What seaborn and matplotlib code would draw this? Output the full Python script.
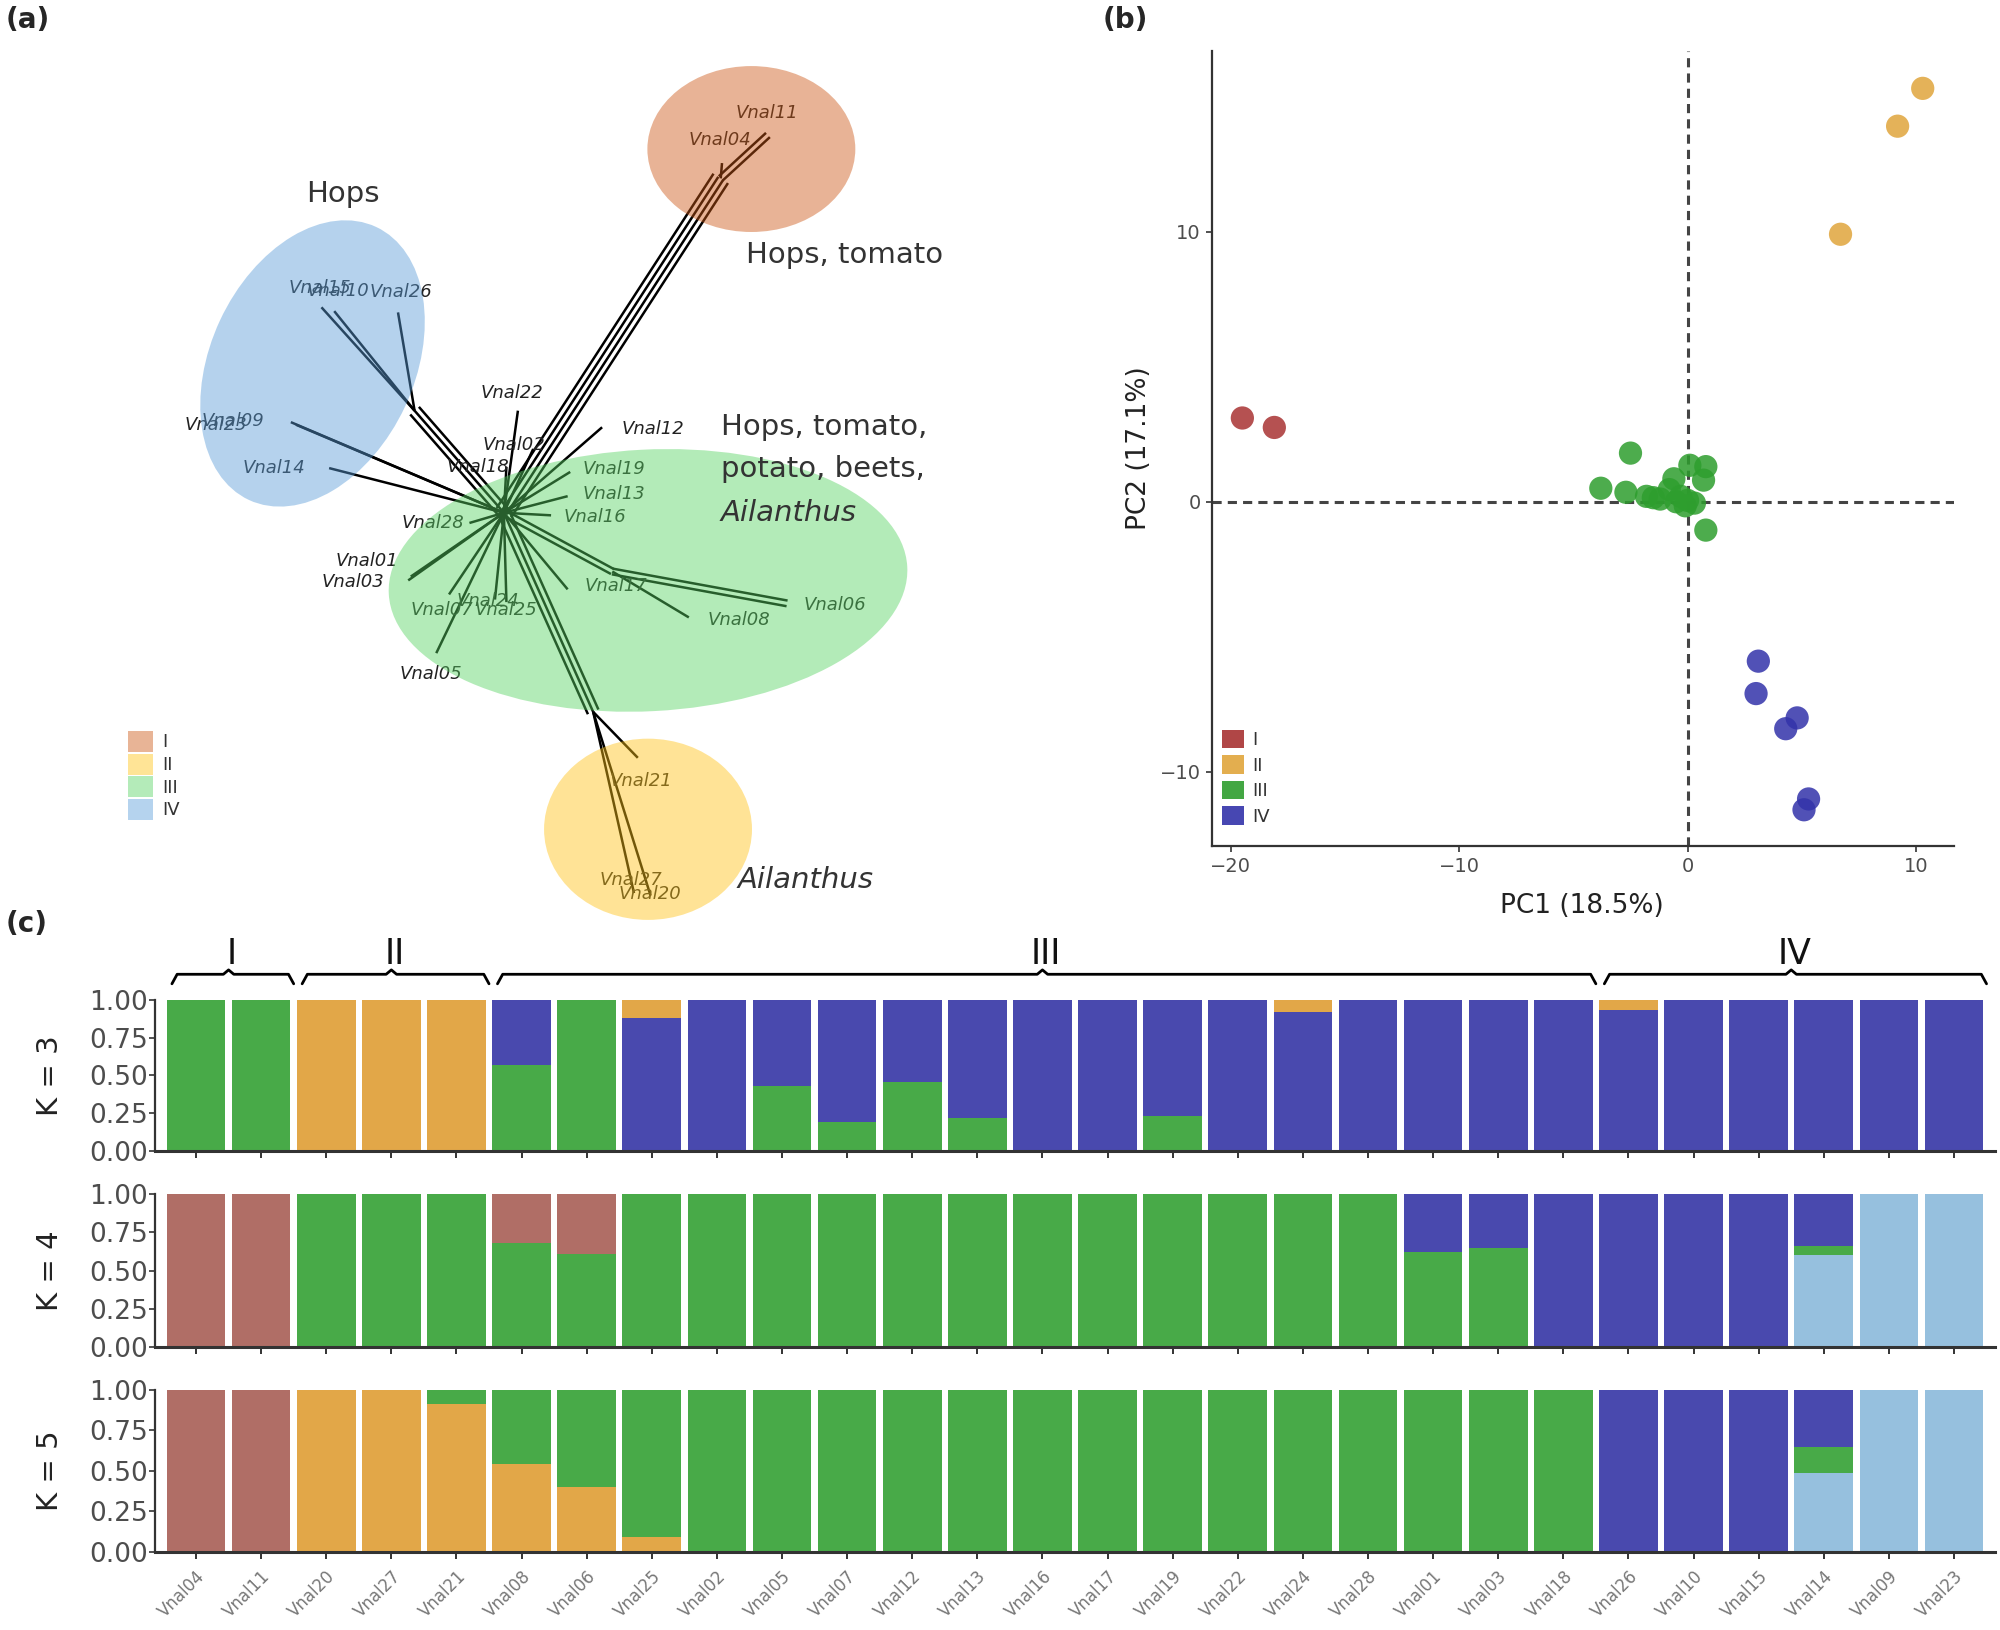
import numpy as np
import pandas as pd
import matplotlib
matplotlib.use("Agg")
import matplotlib.pyplot as plt
from matplotlib.patches import Ellipse, Patch
import seaborn as sns

sns.set_theme(style="white")
plt.rcParams['font.family'] = ['DejaVu Sans']

# ---------------- data ----------------
samples = ["Vnal04", "Vnal11", "Vnal20", "Vnal27", "Vnal21", "Vnal08", "Vnal06",
           "Vnal25", "Vnal02", "Vnal05", "Vnal07", "Vnal12", "Vnal13", "Vnal16",
           "Vnal17", "Vnal19", "Vnal22", "Vnal24", "Vnal28", "Vnal01", "Vnal03",
           "Vnal18", "Vnal26", "Vnal10", "Vnal15", "Vnal14", "Vnal09", "Vnal23"]
group_names = ["I", "II", "III", "IV"]
group_start = [0, 2, 5, 22]
group_end = [1, 4, 21, 27]

# admixture proportions, K = 3 (bottom -> top: green, blue, orange)
k3_green = [1, 1, 0, 0, 0, 0.57, 1, 0, 0, 0.43, 0.19, 0.46, 0.22, 0, 0, 0.23, 0, 0, 0, 0, 0, 0, 0, 0, 0, 0, 0, 0]
k3_blue = [0, 0, 0, 0, 0, 0.43, 0, 0.88, 1, 0.57, 0.81, 0.54, 0.78, 1, 1, 0.77, 1, 0.92, 1, 1, 1, 1, 0.93, 1, 1, 1, 1, 1]
k3_orange = [0, 0, 1, 1, 1, 0, 0, 0.12, 0, 0, 0, 0, 0, 0, 0, 0, 0, 0.08, 0, 0, 0, 0, 0.07, 0, 0, 0, 0, 0]

# K = 4 (bottom -> top: light blue, green, blue, brown)
k4_lblue = [0, 0, 0, 0, 0, 0, 0, 0, 0, 0, 0, 0, 0, 0, 0, 0, 0, 0, 0, 0, 0, 0, 0, 0, 0, 0.6, 1, 1]
k4_green = [0, 0, 1, 1, 1, 0.68, 0.61, 1, 1, 1, 1, 1, 1, 1, 1, 1, 1, 1, 1, 0.62, 0.65, 0, 0, 0, 0, 0.06, 0, 0]
k4_blue = [0, 0, 0, 0, 0, 0, 0, 0, 0, 0, 0, 0, 0, 0, 0, 0, 0, 0, 0, 0.38, 0.35, 1, 1, 1, 1, 0.34, 0, 0]
k4_brown = [1, 1, 0, 0, 0, 0.32, 0.39, 0, 0, 0, 0, 0, 0, 0, 0, 0, 0, 0, 0, 0, 0, 0, 0, 0, 0, 0, 0, 0]

# K = 5 (bottom -> top: light blue, orange, green, blue, brown)
k5_lblue = [0, 0, 0, 0, 0, 0, 0, 0, 0, 0, 0, 0, 0, 0, 0, 0, 0, 0, 0, 0, 0, 0, 0, 0, 0, 0.49, 1, 1]
k5_orange = [0, 0, 1, 1, 0.91, 0.54, 0.40, 0.09, 0, 0, 0, 0, 0, 0, 0, 0, 0, 0, 0, 0, 0, 0, 0, 0, 0, 0, 0, 0]
k5_green = [0, 0, 0, 0, 0.09, 0.46, 0.60, 0.91, 1, 1, 1, 1, 1, 1, 1, 1, 1, 1, 1, 1, 1, 1, 0, 0, 0, 0.16, 0, 0]
k5_blue = [0, 0, 0, 0, 0, 0, 0, 0, 0, 0, 0, 0, 0, 0, 0, 0, 0, 0, 0, 0, 0, 0, 1, 1, 1, 0.35, 0, 0]
k5_brown = [1, 1, 0, 0, 0, 0, 0, 0, 0, 0, 0, 0, 0, 0, 0, 0, 0, 0, 0, 0, 0, 0, 0, 0, 0, 0, 0, 0]

# PCA scores
pc1_I = [-19.5, -18.1]
pc2_I = [3.1, 2.75]
pc1_II = [10.3, 9.2, 6.7]
pc2_II = [15.3, 13.9, 9.9]
pc1_III = [-2.5, -3.8, -2.7, -1.8, -1.5, -0.6, 0.1, 0.8, 0.7, -0.5, -0.1, 0.3, 0.8, -0.8, -1.2, 0.0, -0.3]
pc2_III = [1.8, 0.5, 0.35, 0.2, 0.15, 0.85, 1.35, 1.3, 0.8, 0.0, -0.15, -0.05, -1.05, 0.45, 0.1, 0.05, 0.2]
pc1_IV = [3.1, 3.0, 4.8, 4.3, 5.3, 5.1]
pc2_IV = [-5.9, -7.1, -8.0, -8.4, -11.0, -11.4]

# network (panel a), positions in panel units
node_names = ["hub", "nI", "nH", "nII", "nS", "t04", "t11", "t10", "t15", "t26", "t09", "t23",
              "t14", "t21", "t27", "t20", "t22", "t02", "t18", "t12", "t19", "t13", "t16",
              "t28", "t01", "t03", "t24", "t07", "t25", "t17", "t08", "t06", "t05"]
node_x = [395, 565, 325, 465, 480, 566, 602, 262, 252, 312, 228, 232,
          258, 500, 497, 510, 406, 418, 397, 472, 447, 445, 432,
          368, 322, 320, 388, 352, 397, 445, 540, 617, 342]
node_y = [402, 140, 322, 558, 448, 128, 106, 244, 241, 245, 331, 333,
          367, 594, 700, 702, 322, 352, 366, 335, 370, 389, 404,
          410, 452, 455, 470, 466, 472, 462, 484, 473, 512]
edges = [("hub", "nI", 4), ("nI", "t04", 1), ("nI", "t11", 2), ("hub", "nH", 3),
         ("nH", "t10", 1), ("nH", "t15", 1), ("nH", "t26", 1), ("hub", "t09", 1),
         ("hub", "t23", 1), ("hub", "t14", 1), ("hub", "nII", 3), ("nII", "t21", 1),
         ("nII", "t27", 1), ("nII", "t20", 1), ("hub", "t22", 1), ("hub", "t02", 1),
         ("hub", "t18", 1), ("hub", "t12", 1), ("hub", "t19", 1), ("hub", "t13", 1),
         ("hub", "t16", 1), ("hub", "t28", 1), ("hub", "t01", 1), ("hub", "t03", 1),
         ("hub", "t24", 1), ("hub", "t07", 1), ("hub", "t25", 1), ("hub", "t17", 1),
         ("hub", "nS", 2), ("nS", "t08", 1), ("nS", "t06", 2), ("hub", "t05", 1)]

tip_labels = ["Vnal11", "Vnal04", "Vnal15", "Vnal10", "Vnal26", "Vnal09", "Vnal23", "Vnal14",
              "Vnal22", "Vnal02", "Vnal18", "Vnal12", "Vnal19", "Vnal13", "Vnal16", "Vnal28",
              "Vnal01", "Vnal03", "Vnal24", "Vnal07", "Vnal25", "Vnal17", "Vnal08", "Vnal06",
              "Vnal05", "Vnal21", "Vnal27", "Vnal20"]
tip_lx = [577, 540, 226, 240, 290, 158, 145, 190, 377, 378, 350, 487, 457, 457, 442, 315,
          263, 252, 358, 322, 372, 458, 555, 630, 313, 478, 470, 485]
tip_ly = [89, 110, 226, 228, 229, 330, 333, 367, 308, 349, 366, 336, 368, 387, 405, 410,
          440, 456, 471, 478, 478, 459, 486, 474, 528, 612, 690, 701]

ell_x = [589, 508, 508, 245]
ell_y = [117, 650, 455, 285]
ell_w = [163, 163, 407, 160]
ell_h = [130, 142, 205, 236]
ell_ang = [0, 0, -3, 25]
ell_col = ["#CC5816", "#FFC316", "#58D363", "#5B9DD9"]
legend_a_col = ["#E8B496", "#FFE496", "#B4EBB9", "#B5D3EE"]

pca_col = ["#A83232", "#E0A53C", "#2E9E2E", "#3333AA"]
c_brown = "#B06E66"
c_orange = "#E2A748"
c_green = "#48AA48"
c_blue = "#4949AE"
c_lblue = "#96C0DE"

# ---------------- figure ----------------
fig = plt.figure(figsize=(20, 16.3), dpi=100)

# panel (a): network
ax_a = fig.add_axes([0, 1 - 925 / 1630, 995 / 2000, 887 / 1630])
ax_a.set_xlim(0, 780)
ax_a.set_ylim(725, 30)
ax_a.axis("off")
pos = {n: (x, y) for n, x, y in zip(node_names, node_x, node_y)}
for a, b, npar in edges:
    x0, y0 = pos[a]
    x1, y1 = pos[b]
    d = np.array([x1 - x0, y1 - y0], dtype=float)
    perp = np.array([-d[1], d[0]]) / np.hypot(*d)
    for k in range(npar):
        off = (k - (npar - 1) / 2) * 4.5
        ax_a.plot([x0 + perp[0] * off, x1 + perp[0] * off],
                  [y0 + perp[1] * off, y1 + perp[1] * off],
                  color="black", lw=1.8, zorder=1, solid_capstyle="butt")
for lab, x, y in zip(tip_labels, tip_lx, tip_ly):
    ax_a.text(x, y, lab, fontsize=13, style="italic", color="#222222",
              ha="left", va="center", zorder=2)
for x, y, w, h, ang, col in zip(ell_x, ell_y, ell_w, ell_h, ell_ang, ell_col):
    ax_a.add_patch(Ellipse((x, y), w, h, angle=ang, facecolor=col, edgecolor="none",
                           alpha=0.45, zorder=3))
txt_kw = dict(fontsize=21, color="#333333", ha="left", va="center", zorder=5)
ax_a.text(240, 152, "Hops", **txt_kw)
ax_a.text(585, 200, "Hops, tomato", **txt_kw)
ax_a.text(565, 335, "Hops, tomato,", **txt_kw)
ax_a.text(565, 368, "potato, beets,", **txt_kw)
ax_a.text(565, 402, "Ailanthus", style="italic", **txt_kw)
ax_a.text(578, 690, "Ailanthus", style="italic", **txt_kw)
h_a = [Patch(facecolor=c, edgecolor="none") for c in legend_a_col]
ax_a.legend(h_a, group_names, loc="upper left", bbox_to_anchor=(100, 573),
            bbox_transform=ax_a.transData, frameon=False, fontsize=13,
            handlelength=1.4, handleheight=1.4, labelspacing=0.1, handletextpad=0.5,
            borderpad=0, borderaxespad=0, labelcolor="#333333")

# panel (b): PCA
ax_b = fig.add_axes([0.606, 0.481, 0.371, 0.488])
pca = pd.DataFrame({
    "PC1": pc1_I + pc1_II + pc1_III + pc1_IV,
    "PC2": pc2_I + pc2_II + pc2_III + pc2_IV,
    "group": ["I"] * len(pc1_I) + ["II"] * len(pc1_II) + ["III"] * len(pc1_III) + ["IV"] * len(pc1_IV),
})
ax_b.axvline(0, color="#444444", lw=2.2, ls=(0, (3, 2)), zorder=1)
ax_b.axhline(0, color="#444444", lw=2.2, ls=(0, (3, 2)), zorder=1)
sns.scatterplot(data=pca, x="PC1", y="PC2", hue="group", hue_order=group_names,
                palette=pca_col, s=280, alpha=0.85, edgecolor="none", legend=False,
                ax=ax_b, zorder=3)
ax_b.set_xlim(-20.83, 11.67)
ax_b.set_ylim(-12.74, 16.7)
ax_b.set_xticks([-20, -10, 0, 10])
ax_b.set_yticks([-10, 0, 10])
for s in ["top", "right"]:
    ax_b.spines[s].set_visible(False)
for s in ["left", "bottom"]:
    ax_b.spines[s].set_color("#333333")
    ax_b.spines[s].set_linewidth(1.6)
ax_b.tick_params(axis="both", which="both", length=4, width=1.2, color="#333333",
                 labelsize=14, labelcolor="#4D4D4D", pad=4, bottom=True, left=True)
ax_b.set_xlabel("PC1 (18.5%)", fontsize=19, color="#222222")
ax_b.set_ylabel("PC2 (17.1%)", fontsize=19, color="#222222")
ax_b.xaxis.set_label_coords(0.499, -0.059)
ax_b.yaxis.set_label_coords(-0.081, 0.5)
h_b = [Patch(facecolor=c, edgecolor="none", alpha=0.9) for c in pca_col]
ax_b.legend(h_b, group_names, loc="upper left", bbox_to_anchor=(0.0135, 0.146),
            frameon=False, fontsize=13, handlelength=1.2, handleheight=1.2,
            labelspacing=0.34, handletextpad=0.5, borderpad=0, borderaxespad=0,
            labelcolor="#333333")

# panel (c): admixture bars
panel_pos = [[0.0775, 0.2938, 0.92, 0.0928],
             [0.0775, 0.1737, 0.92, 0.0937],
             [0.0775, 0.0479, 0.92, 0.0994]]
panel_layers = [
    [(k3_green, c_green), (k3_blue, c_blue), (k3_orange, c_orange)],
    [(k4_lblue, c_lblue), (k4_green, c_green), (k4_blue, c_blue), (k4_brown, c_brown)],
    [(k5_lblue, c_lblue), (k5_orange, c_orange), (k5_green, c_green), (k5_blue, c_blue), (k5_brown, c_brown)],
]
k_labels = ["K = 3", "K = 4", "K = 5"]
axes_c = []
for i, (p, layers) in enumerate(zip(panel_pos, panel_layers)):
    ax = fig.add_axes(p)
    cum = np.zeros(len(samples))
    tops = []
    for vals, col in layers:
        cum = cum + np.array(vals, dtype=float)
        tops.append((cum.copy(), col))
    for tot, col in reversed(tops):
        sns.barplot(x=samples, y=tot, color=col, width=0.9, saturation=1,
                    errorbar=None, edgecolor="none", linewidth=0, ax=ax)
    ax.set_xlim(-0.63, 27.63)
    ax.set_ylim(0, 1)
    ax.set_yticks([0, 0.25, 0.5, 0.75, 1.0])
    ax.set_yticklabels(["0.00", "0.25", "0.50", "0.75", "1.00"])
    for s in ["top", "right"]:
        ax.spines[s].set_visible(False)
    ax.spines["left"].set_color("#333333")
    ax.spines["left"].set_linewidth(1.6)
    ax.spines["bottom"].set_color("#333333")
    ax.spines["bottom"].set_linewidth(2.2)
    ax.tick_params(axis="y", length=4, width=1.2, color="#333333", labelsize=19,
                   labelcolor="#4D4D4D", pad=1, left=True)
    ax.tick_params(axis="x", length=5, width=1.4, color="#333333", bottom=True)
    ax.set_ylabel(k_labels[i], fontsize=21, color="#222222")
    ax.yaxis.set_label_coords(-0.0495, 0.5)
    ax.set_xlabel("")
    if i < 2:
        ax.set_xticklabels([])
    else:
        ax.set_xticks(range(len(samples)))
        ax.set_xticklabels(samples, rotation=45, ha="right", rotation_mode="anchor",
                           fontsize=12, color="#777777")
        ax.tick_params(axis="x", pad=6)
    axes_c.append(ax)

# group brackets above K = 3
ax_top = axes_c[0]
tr = ax_top.get_xaxis_transform()
for name, s0, e0 in zip(group_names, group_start, group_end):
    x0 = s0 - 0.37
    x1 = e0 + 0.5
    xm = (s0 + e0) / 2
    ax_top.plot([x0, x0 + 0.08, xm - 0.08, xm, xm + 0.08, x1 - 0.08, x1],
                [1.106, 1.169, 1.169, 1.198, 1.169, 1.169, 1.106],
                color="black", lw=2.0, transform=tr, clip_on=False)
    ax_top.text(xm + 0.05, 1.30, name, fontsize=25, color="#111111", ha="center",
                va="center", transform=tr)

# panel letters
fig.text(0.003, 1 - 6 / 1630, "(a)", fontsize=20, fontweight="bold", va="top", ha="left")
fig.text(1103 / 2000, 1 - 6 / 1630, "(b)", fontsize=20, fontweight="bold", va="top", ha="left")
fig.text(0.003, 1 - 910 / 1630, "(c)", fontsize=20, fontweight="bold", va="top", ha="left")

fig.savefig("out.png", dpi=100)
